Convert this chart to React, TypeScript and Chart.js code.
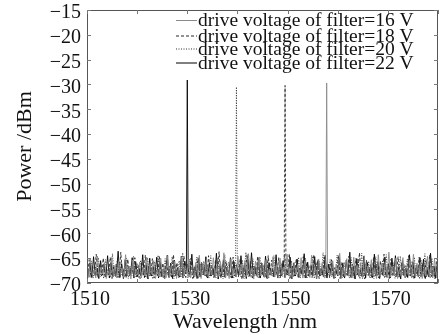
import React, { useEffect, useRef } from "react";
import { Chart, registerables } from "chart.js";

Chart.register(...registerables);

const seriesLabels = [
  "drive voltage of filter=16 V",
  "drive voltage of filter=18 V",
  "drive voltage of filter=20 V",
  "drive voltage of filter=22 V",
];

// sampling grid of the spectrum analyser traces (nm)
const gridStep = 0.35;
const gridStarts = [1510, 1510.09, 1510.18, 1510.26];

const noise16 = [
  -66.2,-68.9,-65.1,-68.4,-67.3,-69.0,-64.6,-68.7,-66.8,-68.2,-65.9,-69.1,-67.5,-68.6,-64.9,-68.8,-66.4,-69.0,-65.7,-68.3,
  -67.0,-68.9,-64.3,-68.5,-66.6,-69.2,-65.4,-68.7,-67.2,-68.4,-65.8,-69.0,-66.9,-68.6,-64.8,-68.9,-66.1,-68.3,-65.5,-69.1,
  -67.4,-68.7,-65.0,-68.5,-66.7,-69.0,-64.5,-68.8,-66.3,-68.4,-65.6,-69.1,-67.1,-68.6,-64.7,-68.9,-66.5,-68.2,-65.2,-69.0,
  -67.6,-68.7,-65.9,-68.5,-64.4,-69.1,-66.0,-68.6,-65.3,-68.8,-67.0,-68.4,-64.9,-69.0,-66.6,-68.7,-65.7,-68.3,-63.9,-68.9,
  -66.8,-69.1,-65.1,-68.6,-67.3,-68.8,-64.6,-68.4,-66.2,-69.0,-65.4,-68.7,-64.1,-68.5,-66.9,-69.2,-65.6,-68.8,-64.8,-68.6,
  -66.0,-68.9,-65.3,-69.1,-67.2,-68.5,-64.7,-68.8,-66.5,-69.0,-65.0,-68.3,-66.8,-68.9,-64.2,-68.6,-67.0,-69.2,-65.8,-68.4,
  -66.3,-68.7,-64.9,-69.0,-65.6,-68.5,-67.1,-68.9,-64.4,-68.6,-66.7,-69.1,-65.2,-68.3,-66.0,-68.8,-64.6,-69.0,-67.4,-68.5,
  -65.5,-68.9,-66.2,-68.4,-64.0,-69.1,-66.9,-68.7,-65.1,-68.6,-67.3,-69.0,-64.8,-68.5,-66.4,-68.8,-65.9,-69.2,-64.5,-68.3,
  -66.6,-68.9,-65.3,-68.6,-67.0,-69.1,-64.3,-68.7,-66.1,-68.4,-65.7,-69.0,-63.8,-68.8,-66.8,-68.5,-65.0,-69.1,-67.2,-68.6,
  -64.9,-68.9,-66.5,-68.3,-65.4,-69.0,-64.2,-68.7,-66.0,-68.5,-65.8,-69.1,-67.1,-68.6,-64.6,-68.8,-66.3,-69.0,-65.2,-68.4,
  -66.7,
];
const noise18 = [
  -68.7,-65.3,-68.9,-66.7,-68.4,-64.2,-69.0,-66.1,-68.6,-65.0,-68.8,-67.2,-68.3,-64.8,-69.1,-66.5,-68.7,-65.6,-68.9,-63.8,
  -68.5,-66.9,-69.0,-65.2,-68.6,-67.0,-68.2,-64.9,-68.8,-66.3,-69.1,-65.7,-68.4,-64.4,-68.9,-66.8,-68.6,-65.1,-69.0,-67.3,
  -68.5,-64.7,-68.7,-66.0,-69.2,-65.5,-68.3,-66.6,-68.8,-64.3,-68.6,-65.9,-69.0,-67.1,-68.4,-64.6,-68.9,-66.2,-68.7,-65.0,
  -69.1,-66.7,-68.5,-64.9,-68.8,-65.8,-68.3,-67.0,-69.0,-64.5,-68.6,-66.4,-68.9,-65.3,-68.4,-63.7,-69.1,-66.1,-68.7,-65.6,
  -68.5,-67.4,-69.0,-64.8,-68.6,-66.3,-68.8,-65.2,-69.2,-66.9,-68.4,-64.2,-68.7,-65.7,-69.0,-66.5,-68.5,-64.6,-68.9,-65.9,
  -68.6,-66.8,-69.1,-64.5,-68.3,-65.4,-68.9,-67.1,-68.5,-64.9,-69.0,-66.0,-68.7,-65.6,-68.4,-64.1,-69.2,-66.6,-68.6,-65.1,
  -68.8,-67.0,-68.3,-64.7,-69.0,-65.9,-68.6,-66.4,-68.9,-64.3,-68.5,-65.5,-69.1,-67.2,-68.4,-64.8,-68.7,-66.1,-69.0,-65.3,
  -68.6,-66.9,-68.3,-64.4,-69.1,-65.8,-68.8,-67.3,-68.5,-64.6,-68.9,-66.2,-69.0,-65.0,-68.4,-63.9,-68.7,-66.7,-69.2,-65.4,
  -68.5,-67.0,-68.9,-64.9,-68.6,-66.3,-69.0,-65.6,-68.3,-64.2,-68.8,-66.8,-69.1,-65.2,-68.5,-67.1,-68.7,-64.7,-69.0,-65.9,
  -68.4,-66.5,-68.9,-64.5,-68.6,-65.7,-69.1,-67.2,-68.3,-64.8,-68.8,-66.0,-69.0,-65.3,-68.5,-64.3,-68.7,-66.6,-69.2,-65.1,
  -68.6,
];
const noise20 = [
  -67.9,-68.8,-65.6,-69.0,-66.4,-68.5,-64.9,-68.7,-67.1,-69.1,-65.3,-68.4,-66.8,-68.9,-64.1,-68.6,-66.2,-69.0,-65.8,-68.3,
  -67.5,-68.8,-65.0,-69.1,-66.6,-68.5,-64.6,-68.7,-66.0,-69.0,-65.4,-68.4,-67.2,-68.9,-64.9,-68.6,-66.5,-69.2,-65.7,-68.3,
  -64.4,-68.8,-66.9,-69.0,-65.1,-68.5,-67.0,-68.7,-64.7,-69.1,-66.3,-68.4,-65.5,-68.9,-63.9,-68.6,-66.7,-69.0,-65.2,-68.3,
  -67.3,-68.8,-64.8,-69.1,-66.1,-68.5,-65.6,-68.7,-67.0,-69.0,-64.5,-68.4,-66.6,-68.9,-65.0,-68.6,-66.9,-69.2,-64.3,-68.3,
  -65.8,-68.8,-67.4,-69.0,-64.9,-68.5,-66.2,-68.7,-65.4,-69.1,-63.8,-68.4,-66.8,-68.9,-65.1,-68.6,-67.1,-69.0,-64.7,-68.3,
  -66.4,-68.9,-65.2,-69.1,-67.0,-68.6,-64.5,-68.4,-66.7,-69.0,-65.9,-68.7,-64.2,-68.5,-66.1,-69.2,-65.5,-68.8,-67.3,-68.3,
  -64.8,-69.0,-66.5,-68.6,-65.0,-68.9,-67.2,-68.4,-64.6,-69.1,-66.0,-68.7,-65.7,-68.5,-63.9,-69.0,-66.9,-68.3,-65.3,-68.8,
  -67.1,-69.1,-64.4,-68.6,-66.3,-68.9,-65.8,-68.4,-67.4,-69.0,-64.9,-68.7,-66.6,-68.5,-65.1,-69.2,-64.0,-68.8,-66.2,-68.3,
  -65.6,-68.9,-67.0,-69.1,-64.7,-68.6,-66.8,-68.4,-65.4,-69.0,-64.3,-68.7,-66.4,-68.5,-65.9,-69.1,-67.3,-68.8,-64.6,-68.4,
  -66.1,-69.0,-65.2,-68.6,-67.1,-68.9,-64.8,-68.5,-66.7,-69.2,-65.5,-68.3,-64.1,-68.8,-66.3,-69.0,-65.0,-68.6,-67.2,-68.4,
  -66.0,
];
const noise22 = [
  -68.5,-66.0,-68.9,-64.7,-68.6,-67.0,-69.1,-65.5,-68.4,-66.3,-68.8,-64.5,-69.0,-65.9,-68.7,-67.3,-68.3,-63.6,-68.9,-66.1,
  -69.1,-65.3,-68.6,-66.8,-68.4,-64.9,-69.0,-65.7,-68.7,-67.1,-68.5,-64.3,-68.9,-66.4,-69.2,-65.0,-68.6,-66.7,-68.3,-64.8,
  -69.0,-65.8,-68.7,-67.2,-68.4,-64.4,-68.9,-66.0,-69.1,-65.4,-68.5,-66.9,-68.8,-64.6,-69.0,-65.6,-68.6,-67.4,-68.3,-64.2,
  -68.9,-66.5,-69.1,-65.1,-68.7,-66.2,-68.4,-64.7,-69.0,-65.9,-68.6,-67.0,-68.8,-64.0,-69.2,-66.6,-68.5,-65.3,-68.9,-66.8,
  -68.3,-64.9,-69.0,-65.7,-68.7,-67.2,-68.4,-64.5,-68.9,-66.1,-69.1,-65.2,-68.6,-63.9,-68.8,-66.7,-68.5,-65.0,-69.0,-66.3,
  -68.7,-64.6,-69.1,-65.9,-68.4,-67.1,-68.8,-64.3,-69.0,-66.4,-68.5,-65.5,-68.9,-67.3,-68.3,-64.8,-69.2,-66.0,-68.6,-65.2,
  -68.9,-66.9,-68.4,-64.1,-69.0,-65.8,-68.7,-66.5,-68.5,-64.7,-69.1,-65.3,-68.6,-67.0,-68.8,-64.4,-69.0,-66.2,-68.3,-65.6,
  -69.1,-67.2,-68.5,-64.9,-68.8,-66.0,-69.0,-65.4,-68.4,-63.8,-68.9,-66.6,-69.2,-65.1,-68.6,-67.4,-68.7,-64.6,-69.0,-65.9,
  -68.4,-66.3,-68.9,-64.2,-68.6,-65.7,-69.1,-67.1,-68.5,-64.8,-68.8,-66.1,-69.0,-65.0,-68.3,-64.5,-68.7,-66.8,-69.2,-65.5,
  -68.6,-67.0,-68.9,-64.3,-68.4,-65.8,-69.0,-66.4,-68.7,-64.9,-68.5,-65.2,-69.1,-67.3,-68.8,-64.0,-68.6,-66.6,-69.0,-65.4,
  -68.7,
];
const noiseSeries = [noise16, noise18, noise20, noise22];

const peakWavelengths = [1557.8, 1549.5, 1539.8, 1530.0];
const peakPowers = [-29.7, -30.2, -30.5, -29.1];
const shoulderOffsets = [-0.18, 0.18];
const shoulderPowers = [-67.6, -67.9];

const xMin = 1510;
const xMax = 1580;
const xLabelled = [1510, 1530, 1550, 1570];
const yMin = -70;
const yMax = -15;

const lineColors = ["#8a8a8a", "#262626", "#303030", "#000000"];
const lineDashes: number[][] = [[], [3, 2], [1, 1.5], []];

const FONT = "'Liberation Serif', 'Times New Roman', serif";

function buildSeries(i: number) {
  const pts = noiseSeries[i]
    .map((y, k) => ({ x: gridStarts[i] + k * gridStep, y }))
    .filter((p) => p.x <= xMax && Math.abs(p.x - peakWavelengths[i]) > 0.22);
  pts.push({ x: peakWavelengths[i] + shoulderOffsets[0], y: shoulderPowers[0] });
  pts.push({ x: peakWavelengths[i], y: peakPowers[i] });
  pts.push({ x: peakWavelengths[i] + shoulderOffsets[1], y: shoulderPowers[1] });
  pts.sort((a, b) => a.x - b.x);
  return pts;
}

const framePlugin = {
  id: "frameTicks",
  afterDraw(chart: any) {
    const { ctx, chartArea } = chart;
    const xs = chart.scales.x;
    const ys = chart.scales.y;
    const { left, right, top, bottom } = chartArea;
    ctx.save();
    ctx.strokeStyle = "#555";
    ctx.lineWidth = 1;
    ctx.strokeRect(left + 0.5, top + 0.5, right - left - 1, bottom - top - 1);
    ctx.strokeStyle = "#777";
    const tl = 4;
    for (let v = xMin; v <= xMax; v += 10) {
      const px = Math.round(xs.getPixelForValue(v)) + 0.5;
      ctx.beginPath();
      ctx.moveTo(px, bottom);
      ctx.lineTo(px, bottom - tl);
      ctx.moveTo(px, top);
      ctx.lineTo(px, top + tl);
      ctx.stroke();
    }
    for (let v = yMin; v <= yMax; v += 5) {
      const py = Math.round(ys.getPixelForValue(v)) + 0.5;
      ctx.beginPath();
      ctx.moveTo(left, py);
      ctx.lineTo(left + tl, py);
      ctx.moveTo(right, py);
      ctx.lineTo(right - tl, py);
      ctx.stroke();
    }
    // x axis title
    ctx.fillStyle = "#111";
    ctx.font = `22px ${FONT}`;
    ctx.textAlign = "center";
    ctx.textBaseline = "alphabetic";
    ctx.fillText("Wavelength /nm", 245, 328);
    // legend
    const baselines = [26, 41.5, 54.5, 68.5];
    ctx.font = `19.5px ${FONT}`;
    ctx.textAlign = "left";
    for (let i = 0; i < seriesLabels.length; i++) {
      const b = baselines[i];
      ctx.save();
      ctx.strokeStyle = lineColors[i];
      ctx.setLineDash(lineDashes[i]);
      ctx.lineWidth = 1;
      ctx.beginPath();
      ctx.moveTo(176, b - 5.5);
      ctx.lineTo(197, b - 5.5);
      ctx.stroke();
      ctx.restore();
      ctx.fillStyle = "#111";
      ctx.fillText(seriesLabels[i], 198, b);
    }
    ctx.restore();
  },
};

export default function App() {
  const ref = useRef<HTMLCanvasElement | null>(null);
  useEffect(() => {
    if (!ref.current) return;
    const chart = new Chart(ref.current, {
      type: "line",
      data: {
        datasets: seriesLabels.map((label, i) => ({
          label,
          data: buildSeries(i),
          borderColor: lineColors[i],
          borderDash: lineDashes[i],
          borderWidth: 0.9,
          pointRadius: 0,
          tension: 0,
          fill: false,
        })),
      },
      options: {
        responsive: false,
        animation: false,
        layout: { padding: { left: 0, top: 10, right: 9, bottom: 0 } },
        plugins: { legend: { display: false }, tooltip: { enabled: false } },
        scales: {
          x: {
            type: "linear",
            min: xMin,
            max: xMax,
            grid: { display: false, drawTicks: false },
            border: { display: false },
            ticks: {
              stepSize: 10,
              autoSkip: false,
              maxRotation: 0,
              padding: 5,
              labelOffset: 3,
              color: "#111",
              font: { family: FONT, size: 20 },
              callback: (v: any) => (xLabelled.includes(Number(v)) ? String(v) : ""),
            },
            afterFit: (s: any) => {
              s.height = 52;
              s.paddingLeft = 0;
              s.paddingRight = 0;
            },
          },
          y: {
            type: "linear",
            min: yMin,
            max: yMax,
            grid: { display: false, drawTicks: false },
            border: { display: false },
            title: {
              display: true,
              text: "Power /dBm",
              color: "#111",
              font: { family: FONT, size: 22 },
              padding: { top: 12, bottom: 0 },
            },
            ticks: {
              stepSize: 5,
              autoSkip: false,
              padding: 6,
              labelOffset: 3,
              color: "#111",
              font: { family: FONT, size: 20 },
              callback: (v: any) => String(v).replace("-", "\u2212"),
            },
            afterFit: (s: any) => {
              s.width = 87;
              s.paddingTop = 0;
              s.paddingBottom = 0;
            },
          },
        },
      },
      plugins: [framePlugin],
    });
    return () => chart.destroy();
  }, []);
  return (
    <div style={{ position: "absolute", left: 0, top: 0, width: 447, height: 335, background: "#fff" }}>
      <canvas ref={ref} width={447} height={335} />
    </div>
  );
}
